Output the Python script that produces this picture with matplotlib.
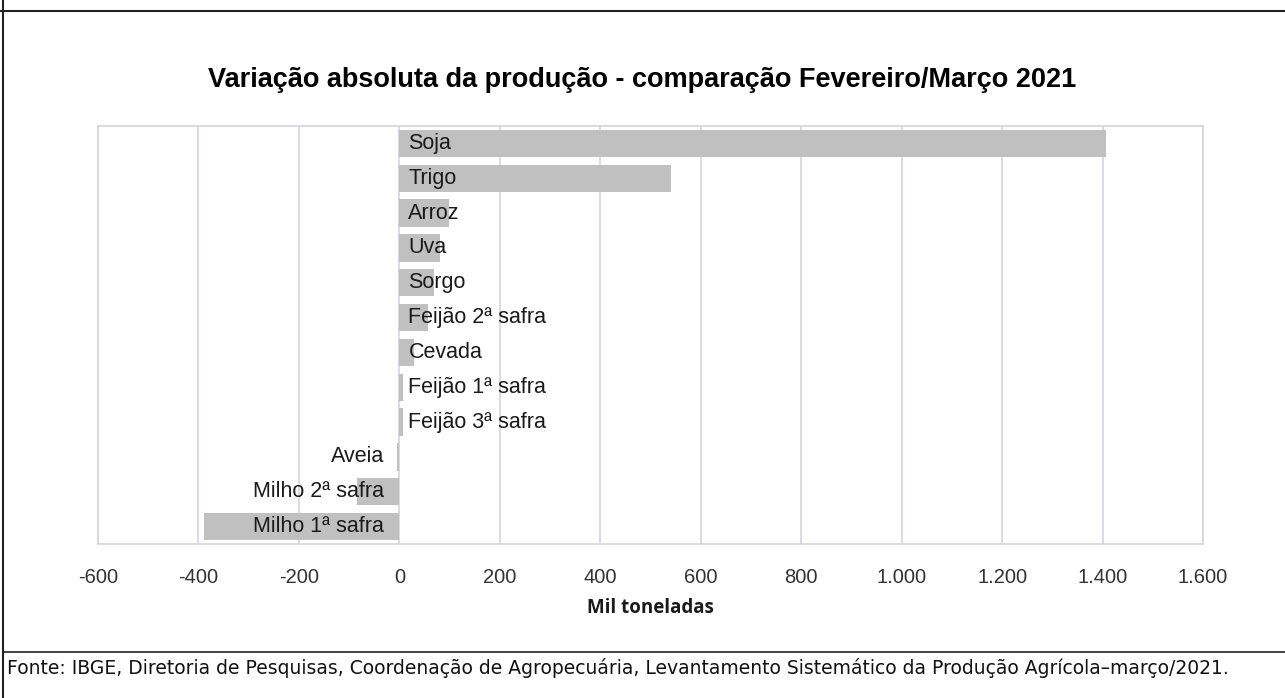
import matplotlib.pyplot as plt
import numpy as np

# dados (mil toneladas), de cima para baixo
culturas = ["Soja", "Trigo", "Arroz", "Uva", "Sorgo", "Feijão 2ª safra", "Cevada",
            "Feijão 1ª safra", "Feijão 3ª safra", "Aveia", "Milho 2ª safra", "Milho 1ª safra"]
variacao = [1406, 540, 98, 80, 68, 58, 29, 8, 7, -5, -84, -388]
ticks = [-600, -400, -200, 0, 200, 400, 600, 800, 1000, 1200, 1400, 1600]
tick_labels = ["-600", "-400", "-200", "0", "200", "400", "600", "800",
               "1.000", "1.200", "1.400", "1.600"]

W, H = 1285, 698
fig = plt.figure(figsize=(W / 100, H / 100), dpi=100)
fig.patch.set_facecolor("white")

# area do grafico em pixels
left, right, top, bottom = 98, 1203, 126, 544
ax = fig.add_axes([left / W, 1 - bottom / H, (right - left) / W, (bottom - top) / H])

y = np.arange(len(culturas))[::-1]
ax.barh(y, variacao, height=0.78, color="#c0c0c0", zorder=2)

for yi, nome, v in zip(y, culturas, variacao):
    if v >= 0:
        ax.text(18, yi, nome, ha="left", va="center", fontsize=15.5,
                family="Liberation Sans", color="#1a1a1a", zorder=3)
    else:
        ax.text(-30, yi, nome, ha="right", va="center", fontsize=15.5,
                family="Liberation Sans", color="#1a1a1a", zorder=3)

ax.set_xlim(-600, 1600)
ax.set_ylim(-0.5, len(culturas) - 0.5)
ax.set_xticks(ticks)
ax.set_xticklabels(tick_labels, family="Liberation Sans", fontsize=14.5, color="#333333")
ax.set_yticks([])
ax.tick_params(axis="x", length=0, pad=17)
ax.grid(axis="x", color="#d4d4e0", linewidth=1.2, zorder=1)
for s in ax.spines.values():
    s.set_color("#d4d4e0")
    s.set_linewidth(1.2)

ax.set_xlabel("Mil toneladas", fontsize=13.5, fontweight="bold", family="Open Sans",
              color="#1a1a1a", labelpad=8)

fig.text(642 / W, 1 - 80 / H, "Variação absoluta da produção - comparação Fevereiro/Março 2021",
         ha="center", va="center", fontsize=19.5, fontweight="bold", family="Liberation Sans")

fig.text(7 / W, 1 - 668 / H,
         "Fonte: IBGE, Diretoria de Pesquisas, Coordenação de Agropecuária, "
         "Levantamento Sistemático da Produção Agrícola–março/2021.",
         ha="left", va="center", fontsize=13.5, family="DejaVu Sans", color="#111111")

# moldura externa
fig.add_artist(plt.Line2D([0, 1], [1 - 11 / H, 1 - 11 / H], color="#222222", lw=1.5))
fig.add_artist(plt.Line2D([3 / W, 3 / W], [0, 1], color="#222222", lw=1.5))
fig.add_artist(plt.Line2D([3 / W, 1], [1 - 652 / H, 1 - 652 / H], color="#222222", lw=1.2))

fig.savefig("out.png", dpi=100)
